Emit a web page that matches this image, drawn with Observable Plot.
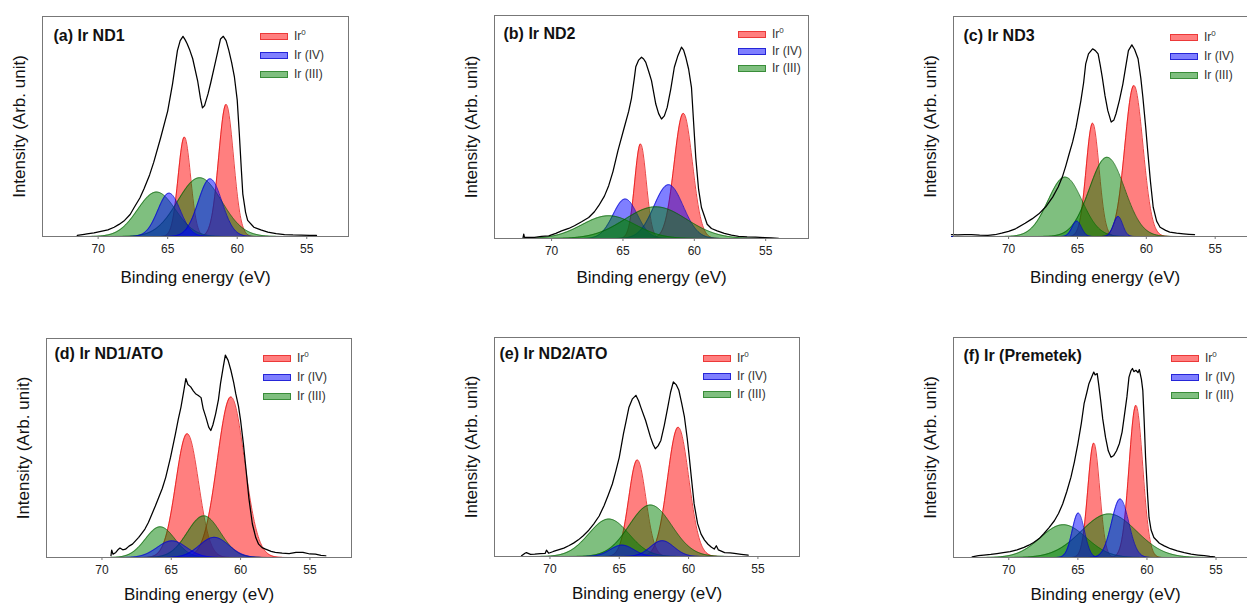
<!DOCTYPE html>
<html><head><meta charset="utf-8">
<script src="https://cdn.jsdelivr.net/npm/d3@7"></script>
<script src="https://cdn.jsdelivr.net/npm/@observablehq/plot@0.6"></script>
<style>
html,body{margin:0;padding:0;background:#fff;overflow:hidden;}
#root{position:relative;width:1247px;height:606px;overflow:hidden;font-family:"Liberation Sans",Arial,sans-serif;background:#fff;}
.panel{position:absolute;}
.panel svg{overflow:visible;max-width:none !important;}
.leg{position:absolute;font-size:12px;color:#333;white-space:nowrap;line-height:12px;}
.leg .sw{position:absolute;left:0;width:26px;height:5px;}
.leg .lt{position:absolute;left:34px;top:-6px;}
.leg sup{font-size:8px;vertical-align:top;position:relative;top:-3px;}
</style></head><body><div id="root"></div>
<script>
// ---------- data ----------
const panelTitles = ["(a) Ir ND1", "(b) Ir ND2", "(c) Ir ND3", "(d) Ir ND1/ATO", "(e) Ir ND2/ATO", "(f) Ir (Premetek)"];
const xLabel = "Binding energy (eV)";
const yLabel = "Intensity (Arb. unit)";
const xTicks = [70, 65, 60, 55];
const seriesNames = [["Ir", "0"], ["Ir (IV)", ""], ["Ir (III)", ""]];

// measured envelopes: [binding energy, intensity]
const envA = [[71.5,0.5],[71.0,1.0],[70.8,1.2],[70.3,1.6],[69.8,2.3],[69.3,3.0],[68.85,4.2],[68.5,5.5],[68.1,7.3],[67.7,10],[67.4,13.3],[67.0,17.5],[66.7,21.7],[66.3,28],[66.0,33.8],[65.5,45],[65.0,57],[64.65,69.4],[64.3,84.5],[64.1,89],[63.9,91],[63.75,89.5],[63.6,87.6],[63.4,84.5],[63.2,80.8],[62.85,70.9],[62.65,63],[62.5,58.5],[62.35,59.5],[62.1,64.8],[61.9,70],[61.65,77],[61.4,84],[61.2,89.8],[61.0,91],[60.8,89],[60.6,84.5],[60.4,79],[60.2,72.4],[60.0,62],[59.85,46.7],[59.7,30],[59.6,19.4],[59.4,11],[59.25,7.3],[58.8,4.2],[58.3,3],[57.8,2],[57.2,1.3],[56.6,0.9],[56.0,0.7],[55.4,0.6],[54.8,0.5],[54.3,0.5]];
const envB = [[72.0,0.4],[71.95,2.0],[71.9,0.5],[71.2,0.5],[70.7,0.9],[70.2,1.2],[69.7,2.3],[69.3,3.4],[68.8,4.5],[68.4,5.7],[67.9,7.5],[67.4,9.4],[67.0,12],[66.7,14.7],[66.3,19],[66.0,23.7],[65.7,30],[65.35,39.4],[64.9,50],[64.6,57],[64.4,63],[64.2,72],[64.1,77],[63.9,80],[63.7,81.3],[63.55,80.5],[63.4,79],[63.2,75],[63.0,70.8],[62.7,60.3],[62.5,56],[62.3,53.6],[62.1,55],[61.9,58.8],[61.65,67],[61.4,76.8],[61.15,82],[60.9,85.8],[60.75,84.5],[60.6,81.3],[60.4,76],[60.2,67.8],[60.05,52],[59.9,36.4],[59.7,22],[59.5,13.9],[59.1,6.4],[58.8,4.5],[58.4,3.4],[57.9,2.3],[57.4,1.5],[56.9,1.0],[56.3,0.7],[55.7,0.6],[55.1,0.4],[54.6,0.3],[54.1,0.1]];
const envC = [[74.15,0.9],[73.7,0.7],[73.2,0.9],[72.7,0.8],[72.1,0.6],[71.5,0.5],[71.0,0.8],[70.5,1.5],[70.0,2.3],[69.5,3.5],[68.8,6],[68.3,8],[67.8,10.3],[67.3,13.5],[66.8,17.9],[66.4,22.5],[66.1,27],[65.85,32],[65.6,37.6],[65.35,43],[65.1,49.7],[64.75,61.8],[64.55,70],[64.4,78.5],[64.2,83],[63.9,85.3],[63.7,84.5],[63.5,83],[63.35,78],[63.2,72.4],[63.0,64],[62.8,57.3],[62.55,52],[62.35,53],[62.2,55.8],[61.95,62],[61.7,69.4],[61.5,77],[61.3,84.5],[61.05,87.1],[60.85,85],[60.6,80.8],[60.4,72],[60.25,63.3],[60.05,50],[59.9,39],[59.7,25],[59.5,13.3],[59.25,7],[59.0,4.2],[58.6,2.8],[58.3,2],[57.8,1.5],[57.3,1.2],[56.9,1.0],[56.5,0.8]];
const envD = [[69.35,0.8],[69.3,3.4],[69.2,1.5],[69.0,2.3],[68.85,3.5],[68.7,4.3],[68.5,3.5],[68.3,3.8],[68.05,5.2],[67.8,6.1],[67.55,7.8],[67.35,9.2],[67.1,11.3],[66.9,13],[66.65,16],[66.4,19.8],[66.15,23.5],[65.9,27.5],[65.65,31.5],[65.4,36.6],[65.05,45.8],[64.7,56.5],[64.5,63],[64.3,68.7],[64.1,76],[63.95,81.7],[63.8,79],[63.6,77.9],[63.4,76],[63.25,74.8],[63.05,74],[62.85,73],[62.7,68],[62.5,64],[62.3,59.5],[62.15,58],[62.0,60.5],[61.8,65.6],[61.6,72],[61.45,79.4],[61.25,87],[61.1,92.4],[60.9,90],[60.7,85.5],[60.5,80],[60.35,74.8],[60.15,69],[60.0,62.6],[59.8,52],[59.6,39.7],[59.4,27],[59.15,15.3],[58.9,9],[58.7,6.1],[58.45,4.5],[58.2,3.8],[57.8,2.8],[57.5,2.3],[57.0,2.0],[56.5,1.8],[56.0,2.3],[55.5,2.3],[55.0,1.6],[54.6,1.5],[54.2,1.0],[53.85,0.8]];
const envE = [[72.05,0.3],[71.8,1.5],[71.7,1.8],[71.4,1.0],[71.1,1.1],[70.7,1.3],[70.35,1.4],[70.25,2.9],[70.1,1.5],[69.75,2.3],[69.4,3.0],[69.0,3.8],[68.65,4.9],[68.3,6.1],[67.95,7.6],[67.6,9.5],[67.2,12],[66.85,14.8],[66.45,18.5],[66.1,23.2],[65.8,28],[65.5,33.1],[65.25,39],[65.0,45.3],[64.7,56],[64.5,62],[64.3,68.2],[64.05,72],[63.8,73.6],[63.6,71],[63.45,68.2],[63.1,62.1],[62.75,54.5],[62.55,51],[62.4,49.2],[62.2,50.5],[62.0,53],[61.75,60],[61.5,68.2],[61.3,75],[61.1,79.7],[60.9,78.5],[60.7,75.9],[60.5,70],[60.3,63.7],[60.1,54],[59.95,45.3],[59.8,36],[59.6,24],[59.35,15],[59.1,10.2],[58.85,7.5],[58.6,5.6],[58.35,4.2],[58.15,3.4],[58.0,4.9],[57.85,3.0],[57.4,1.8],[57.0,1.6],[56.7,1.4],[56.2,1.0],[55.7,0.6]];
const envF = [[72.65,0.3],[72.2,0.8],[71.8,1.1],[71.3,1.4],[70.85,1.8],[70.4,2.2],[69.9,2.7],[69.4,3.5],[68.9,4.6],[68.55,5.6],[68.2,6.8],[67.8,8.6],[67.45,10.9],[67.1,13.5],[66.7,16.7],[66.4,20],[66.1,24.3],[65.8,30],[65.5,36.5],[65.25,43.5],[65.0,51.7],[64.75,61],[64.55,69.9],[64.35,75],[64.2,79],[64.0,82],[63.85,84.3],[63.75,83],[63.6,83.6],[63.5,79],[63.35,71.4],[63.2,63],[63.0,54.7],[62.8,48.5],[62.6,45.6],[62.4,46.4],[62.2,48.5],[62.0,51.7],[61.8,57],[61.65,63.8],[61.45,73],[61.3,82],[61.15,85],[61.05,85.9],[60.95,84.5],[60.8,85.1],[60.65,84],[60.55,85.4],[60.4,81],[60.3,76],[60.2,62],[60.1,45.6],[59.95,28],[59.85,18.2],[59.7,12.5],[59.5,9.1],[59.1,6.5],[58.75,5.3],[58.3,4.0],[57.8,3.0],[57.3,2.2],[56.8,1.5],[56.3,1.1],[55.85,0.8],[55.45,0.5],[55.1,0.3]];
const envelopes = [envA, envB, envC, envD, envE, envF];

// fitted peaks per panel: [center (eV), height, FWHM (eV)]
const ir0Peaks  = [[[63.8,45.2,1.05],[60.8,60,1.25]], [[63.77,42.4,0.95],[60.77,56.1,1.5]], [[63.9,51.5,1.1],[60.9,68.6,1.54]], [[63.85,56.5,1.93],[60.7,73.3,2.3]], [[63.7,44.1,1.45],[60.75,59,1.8]], [[63.85,52,1.0],[60.8,69.1,1.16]]];
const ir4Peaks  = [[[64.9,19.7,1.9],[61.95,26.2,2.0]], [[64.84,17.7,2.0],[61.8,24.1,2.4]], [[65.05,7,0.8],[62.05,9.1,0.78]], [[64.95,7.6,2.5],[61.9,9.2,2.5]], [[64.8,5.2,2.0],[61.9,7.2,2.0]], [[64.97,20.2,1.04],[61.94,26.6,1.45]]];
const ir3Peaks  = [[[65.8,20.2,3.2],[62.7,26.7,3.7]], [[66.0,10.2,4.4],[62.7,14.2,5.1]], [[65.9,27,2.9],[62.85,36,3.0]], [[65.8,14,2.5],[62.65,19,2.8]], [[65.75,17.1,3.4],[62.75,23.5,3.6]], [[66.05,14.9,3.9],[62.75,19.8,4.7]]];

// ---------- layout & style ----------
const frameLeft = [42, 494, 953, 46, 494, 953];
const frameTop  = [16, 15, 16, 338, 337, 337];
const frameW    = [306, 314, 303, 305, 305, 304];
const frameH    = [220, 223, 220, 219, 219, 220];
const xLabelDy  = [41, 39, 41, 37, 37, 37];
const legDx = [218, 244, 217, 217, 209, 218];
const legDy = [20, 19, 21, 20, 21, 21];
const legGap = [19.2, 17, 19, 19, 18, 18.5];
const titleDx = [11, 9, 10, 8, 5, 10];
const titleDy = [19, 18, 19, 15, 16, 18];
const greenOnTop = [false, true, false, false, false, false];
const fills   = ["#ff0000", "#0000ff", "#008000"];
const strokes = ["#e00000", "#0000c8", "#005a00"];
const legFill = ["rgba(255,0,0,0.5)", "rgba(0,0,255,0.5)", "rgba(0,128,0,0.5)"];
const legStroke = ["rgba(220,0,0,0.55)", "rgba(0,0,200,0.7)", "rgba(0,100,0,0.55)"];
const FONT = '"Liberation Sans", Arial, sans-serif';

const root = document.getElementById("root");
const ML = 45, MT = 5, MB = 62, MR = 8;

function panel(i) {
  const env = envelopes[i];
  const eMin = d3.min(env, d => d[0]), eMax = d3.max(env, d => d[0]);
  const grid = d3.range(eMin, eMax + 1e-9, 0.04);
  const curves = peaks => peaks.map(([c, h, f]) => {
    const s = f / 2.3548;
    return grid.map(e => ({e, v: h * Math.exp(-0.5 * ((e - c) / s) ** 2)}));
  });
  const compMarks = (peaks, k) => curves(peaks).flatMap(pts => [
    Plot.areaY(pts, {x: "e", y: "v", fill: fills[k], fillOpacity: 0.5}),
    Plot.lineY(pts, {x: "e", y: "v", stroke: strokes[k], strokeWidth: 0.8, strokeOpacity: 0.9})
  ]);
  const layers = greenOnTop[i]
    ? [compMarks(ir0Peaks[i], 0), compMarks(ir4Peaks[i], 1), compMarks(ir3Peaks[i], 2)]
    : [compMarks(ir0Peaks[i], 0), compMarks(ir3Peaks[i], 2), compMarks(ir4Peaks[i], 1)];
  const W = ML + frameW[i] + MR, H = MT + frameH[i] + MB;
  const p = Plot.plot({
    width: W,
    height: H,
    marginLeft: ML, marginTop: MT, marginBottom: MB, marginRight: MR,
    style: {fontFamily: FONT, background: "transparent", overflow: "visible", maxWidth: "none"},
    x: {domain: [74, 52]},
    y: {domain: [0, 100], axis: null},
    marks: [
      ...layers.flat(),
      Plot.line(env, {x: d => d[0], y: d => d[1], stroke: "#000", strokeWidth: 1.25}),
      Plot.frame({stroke: "#777", strokeWidth: 1}),
      Plot.axisX(xTicks, {tickSize: 3, tickPadding: 5, fontSize: 12, label: null, stroke: "#777", fill: "#222"}),
      Plot.text([panelTitles[i]], {frameAnchor: "top-left", dx: titleDx[i], dy: titleDy[i], text: d => d, fontWeight: "bold", fontSize: 16, textAnchor: "start", lineAnchor: "middle", fill: "#111"}),
      Plot.text([xLabel], {frameAnchor: "bottom", dy: xLabelDy[i], text: d => d, fontSize: 17, textAnchor: "middle", lineAnchor: "middle", fill: "#111"}),
      Plot.text([yLabel], {frameAnchor: "left", dx: -23, rotate: -90, text: d => d, fontSize: 17, textAnchor: "middle", lineAnchor: "middle", fill: "#111"})
    ]
  });
  const div = document.createElement("div");
  div.className = "panel";
  div.style.left = (frameLeft[i] - ML) + "px";
  div.style.top = (frameTop[i] - MT) + "px";
  div.style.width = W + "px";
  div.style.height = H + "px";
  div.appendChild(p);
  root.appendChild(div);

  seriesNames.forEach(([name, sup], k) => {
    const lg = document.createElement("div");
    lg.className = "leg";
    lg.style.left = (frameLeft[i] + legDx[i]) + "px";
    lg.style.top = (frameTop[i] + legDy[i] + k * legGap[i]) + "px";
    const sw = document.createElement("div");
    sw.className = "sw";
    sw.style.top = "-3px";
    sw.style.background = legFill[k];
    sw.style.border = "1px solid " + legStroke[k];
    const t = document.createElement("div");
    t.className = "lt";
    t.textContent = name;
    if (sup) { const s = document.createElement("sup"); s.textContent = sup; t.appendChild(s); }
    lg.appendChild(sw); lg.appendChild(t);
    root.appendChild(lg);
  });
}
for (let i = 0; i < 6; i++) panel(i);
</script></body></html>
